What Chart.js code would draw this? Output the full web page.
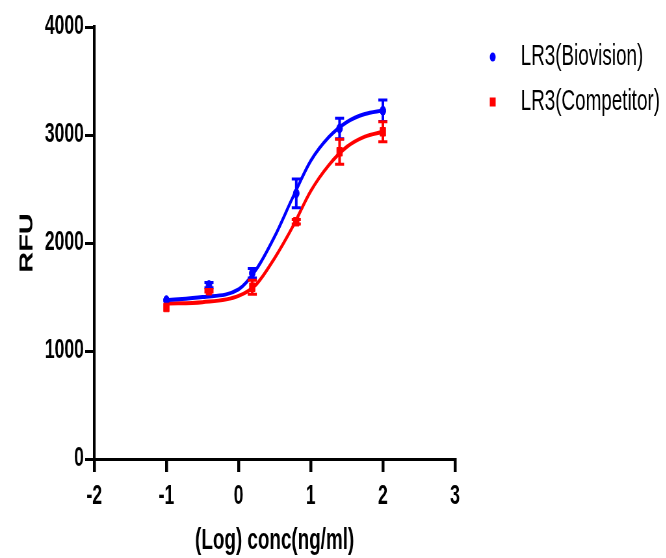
<!DOCTYPE html>
<html>
<head>
<meta charset="utf-8">
<script src="https://cdn.jsdelivr.net/npm/chart.js@4.4.1/dist/chart.umd.min.js"></script>
<style>
    html, body { margin: 0; padding: 0; background: #fff; overflow: hidden; }
    /* the reference picture is squeezed sideways, so the canvas is drawn wide and squeezed too */
    #myChart { transform: scaleX(0.65); transform-origin: 0 0; }
</style>
</head>
<body>
<canvas id="myChart" width="1025" height="558"></canvas>
<script>
    // Field
    let seriesNames = ['LR3(Biovision)', 'LR3(Competitor)'];
    let logConc = [-1, -0.41, 0.19, 0.8, 1.4, 2]; // (Log) conc(ng/ml)
    let bioMean = [1470, 1610, 1720, 2460, 3060, 3225];
    let bioErr = [0, 25, 45, 133, 95, 100];
    let compMean = [1403, 1558, 1590, 2197, 2845, 3030];
    let compErr = [0, 12, 65, 20, 115, 93];

    // fitted curves
    let fitX = [-1, -0.5, 0, 0.25, 0.5, 0.75, 1, 1.25, 1.5, 1.75, 2];
    let bioFit = [1470, 1500, 1570, 1760, 2060, 2420, 2760, 2980, 3120, 3195, 3228];
    let compFit = [1440, 1452, 1510, 1620, 1860, 2150, 2480, 2720, 2890, 2985, 3030];

    let xTicks = [-2, -1, 0, 1, 2, 3];
    let yTicks = [0, 1000, 2000, 3000, 4000];

    const BLUE = '#0000FF';
    const RED = '#FF0000';
    const FONT = 'Liberation Sans, Arial, sans-serif';

    function toPoints(xs, ys) {
        return xs.map((x, i) => ({ x: x, y: ys[i] }));
    }

    // error bars drawn with the chart's own scales
    const errorBars = {
        id: 'errorBars',
        afterDatasetsDraw(chart) {
            const ctx = chart.ctx;
            const xs = chart.scales.x, ys = chart.scales.y;
            chart.data.datasets.forEach(ds => {
                if (!ds.errors) return;
                ctx.save();
                ctx.strokeStyle = ds.borderColor;
                ds.data.forEach((p, i) => {
                    const e = ds.errors[i];
                    if (!e) return;
                    const px = xs.getPixelForValue(p.x);
                    const top = ys.getPixelForValue(p.y + e);
                    const bot = ys.getPixelForValue(p.y - e);
                    ctx.lineWidth = 4;
                    ctx.beginPath();
                    ctx.moveTo(px, top);
                    ctx.lineTo(px, bot);
                    ctx.stroke();
                    ctx.lineWidth = 3;
                    ctx.beginPath();
                    ctx.moveTo(px - 7, top);
                    ctx.lineTo(px + 7, top);
                    ctx.moveTo(px - 7, bot);
                    ctx.lineTo(px + 7, bot);
                    ctx.stroke();
                });
                ctx.restore();
            });
        }
    };

    // legend on the right side
    const sideLegend = {
        id: 'sideLegend',
        afterDraw(chart) {
            const ctx = chart.ctx;
            const rows = chart.data.datasets.filter(ds => ds.errors);
            ctx.save();
            ctx.font = '29px ' + FONT;
            ctx.textBaseline = 'middle';
            ctx.textAlign = 'left';
            rows.forEach((ds, i) => {
                const y = 57 + i * 45;
                ctx.fillStyle = ds.borderColor;
                if (ds.pointStyle === 'rect') {
                    ctx.fillRect(758 - 4.5, y - 4.5, 9, 9);
                } else {
                    ctx.beginPath();
                    ctx.arc(758, y, 4.5, 0, Math.PI * 2);
                    ctx.fill();
                }
                ctx.fillStyle = '#000';
                ctx.fillText(ds.label, 801, y);
            });
            ctx.restore();
        }
    };

    const ctx = document.getElementById('myChart');
    const config = {
        type: 'scatter',
        data: {
            datasets: [{
                label: seriesNames[0],
                data: toPoints(logConc, bioMean),
                errors: bioErr,
                borderColor: BLUE,
                backgroundColor: BLUE,
                pointStyle: 'circle',
                pointRadius: 4.5,
                showLine: false,
                order: 1
            }, {
                label: seriesNames[1],
                data: toPoints(logConc, compMean),
                errors: compErr,
                borderColor: RED,
                backgroundColor: RED,
                pointStyle: 'rect',
                pointRadius: 6,
                showLine: false,
                order: 0
            }, {
                label: 'fit1',
                data: toPoints(fitX, bioFit),
                borderColor: BLUE,
                borderWidth: 4,
                pointRadius: 0,
                showLine: true,
                cubicInterpolationMode: 'monotone',
                order: 2
            }, {
                label: 'fit2',
                data: toPoints(fitX, compFit),
                borderColor: RED,
                borderWidth: 4,
                pointRadius: 0,
                showLine: true,
                cubicInterpolationMode: 'monotone',
                order: 3
            }]
        },
        options: {
            responsive: false,
            animation: false,
            devicePixelRatio: 1,
            layout: { padding: { top: 27, right: 325, left: 0, bottom: 0 } },
            plugins: {
                legend: { display: false },
                tooltip: { enabled: false }
            },
            scales: {
                x: {
                    type: 'linear',
                    min: -2,
                    max: 3,
                    afterBuildTicks: s => { s.ticks = xTicks.map(v => ({ value: v })); },
                    afterFit: s => { s.height = 99; },
                    border: { display: true, color: '#000', width: 3 },
                    grid: { drawOnChartArea: false, drawTicks: true, tickLength: 13, color: '#000', lineWidth: 4.5 },
                    ticks: {
                        color: '#000',
                        padding: 8,
                        font: { family: FONT, size: 27, weight: 'bold' },
                        callback: v => String(v)
                    },
                    title: {
                        display: true,
                        text: '(Log) conc(ng/ml)',
                        color: '#000',
                        padding: { top: 0, bottom: 0 },
                        font: { family: FONT, size: 29, weight: 'bold' }
                    }
                },
                y: {
                    type: 'linear',
                    min: 0,
                    max: 4000,
                    afterBuildTicks: s => { s.ticks = yTicks.map(v => ({ value: v })); },
                    afterFit: s => { s.width = 145; },
                    border: { display: true, color: '#000', width: 4 },
                    grid: { drawOnChartArea: false, drawTicks: true, tickLength: 14, color: '#000', lineWidth: 3 },
                    ticks: {
                        color: '#000',
                        padding: 2,
                        font: { family: FONT, size: 27, weight: 'bold' },
                        callback: v => String(v)
                    },
                    title: {
                        display: true,
                        text: 'RFU',
                        color: '#000',
                        padding: { top: 25, bottom: 0 },
                        font: { family: FONT, size: 29, weight: 'bold' }
                    }
                }
            }
        },
        plugins: [errorBars, sideLegend]
    };

    let myChart = new Chart(ctx, config);
</script>
</body>
</html>
